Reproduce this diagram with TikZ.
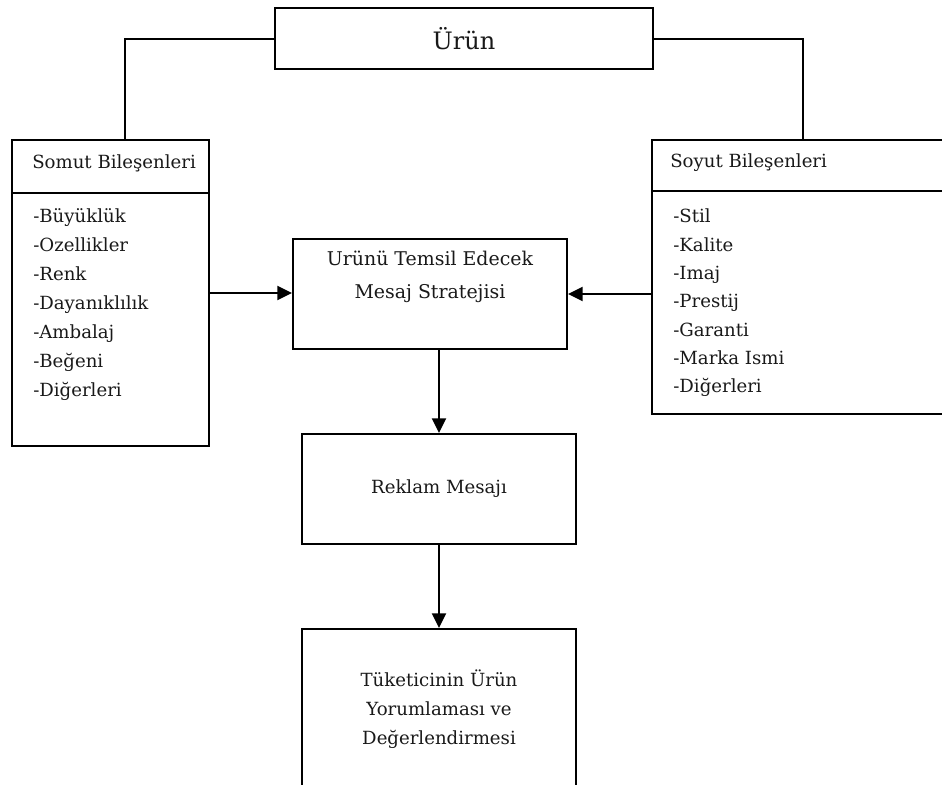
\documentclass[tikz,border=0pt]{standalone}
\usepackage{fontspec}
\setmainfont{DejaVu Serif}
\usetikzlibrary{arrows.meta}
\begin{document}
\begin{tikzpicture}[x=0.75pt,y=-0.75pt,
  box/.style={draw, line width=1.5pt, rectangle, inner sep=0pt},
  lbl/.style={font=\fontsize{13.6}{21.75}\selectfont, inner sep=0pt, text=black!90},
  link/.style={line width=1.5pt},
  arr/.style={line width=1.5pt, -{Triangle[length=11pt,width=10.5pt]}}]
\useasboundingbox (0,0) rectangle (942,785);

% boxes
\node[box, minimum width=283.5pt, minimum height=45.75pt,
      font=\fontsize{18}{21}\selectfont, text=black!90] (urun) at (464,38.5) {Ürün};
\node[box, minimum width=147.75pt, minimum height=229.5pt] (somut) at (110.5,293) {};
\node[box, minimum width=226.5pt, minimum height=205.5pt] (soyut) at (803,277) {};
\node[box, minimum width=205.5pt, minimum height=82.5pt] (strat) at (430,294) {};
\node[box, minimum width=205.5pt, minimum height=82.5pt, lbl] (reklam) at (439,489) {Reklam Mesajı};
\node[box, minimum width=205.5pt, minimum height=128.25pt] (tuketici) at (439,714.5) {};

% header dividers
\draw[link] ([yshift=-40.5pt]somut.north west) -- ([yshift=-40.5pt]somut.north east);
\draw[link] ([yshift=-39pt]soyut.north west) -- ([yshift=-39pt]soyut.north east);

% texts
\node[lbl, anchor=west] (somutH) at (32,163) {Somut Bileşenleri};
\node[lbl, anchor=west, align=left] (somutL) at (33,305)
  {-Büyüklük\\-Ozellikler\\-Renk\\-Dayanıklılık\\-Ambalaj\\-Beğeni\\-Diğerleri};
\node[lbl, anchor=west] (soyutH) at (670,163) {Soyut Bileşenleri};
\node[lbl, anchor=west, align=left, font=\fontsize{13.6}{21.25}\selectfont] (soyutL) at (673,303)
  {-Stil\\-Kalite\\-Imaj\\-Prestij\\-Garanti\\-Marka Ismi\\-Diğerleri};
\node[lbl, align=center, font=\fontsize{14.2}{24.75}\selectfont] (stratT) at (430,277)
  {Urünü Temsil Edecek\\Mesaj Stratejisi};
\node[lbl, align=center] (tuketiciT) at (439,709)
  {Tüketicinin Ürün\\Yorumlaması ve\\Değerlendirmesi};

% connectors
\draw[link] (urun.west) -| ([xshift=10.875pt]somut.north);
\draw[link] (urun.east) -| (soyut.north);
\draw[arr] (somut.east) -- (strat.west |- somut.east);
\draw[arr] (strat.east -| soyut.west) -- (strat.east);
\draw[arr] (strat.south -| reklam.north) -- (reklam.north);
\draw[arr] (reklam.south) -- (tuketici.north);
\end{tikzpicture}
\end{document}
